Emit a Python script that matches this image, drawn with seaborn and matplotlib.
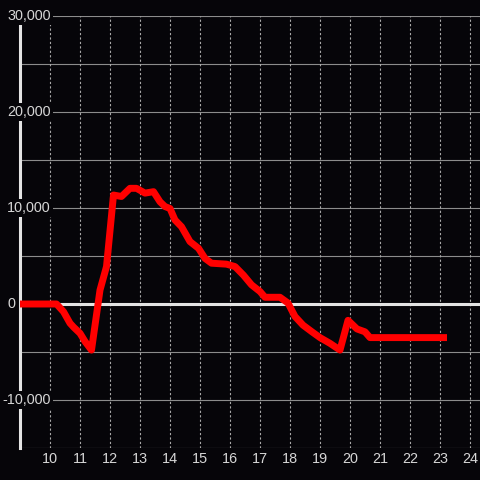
import matplotlib
matplotlib.use("Agg")
import matplotlib.pyplot as plt
import seaborn as sns
import pandas as pd

# readings of the red series (time of day, value)
times = ["09:00", "10:13", "10:27", "10:40", "10:47", "11:00", "11:10", "11:23",
         "11:40", "11:53", "12:07", "12:23", "12:40", "12:53", "13:10", "13:27",
         "13:40", "13:50", "14:00", "14:10", "14:23", "14:40", "14:57", "15:10",
         "15:23", "15:53", "16:10", "16:27", "16:43", "17:00", "17:10", "17:40",
         "17:56", "18:10", "18:26", "18:44", "19:00", "19:20", "19:40", "19:56",
         "20:14", "20:30", "20:40", "23:14"]
values = [0, 0, -800, -2000, -2400, -3050, -3900, -4800,
          1450, 3900, 11350, 11200, 12050, 12050, 11550, 11700,
          10650, 10150, 9950, 8750, 8050, 6500, 5800, 4750,
          4250, 4150, 3900, 3000, 2000, 1300, 700, 700,
          100, -1300, -2200, -2900, -3500, -4100, -4800, -1700,
          -2600, -2900, -3500, -3500]

x_ticks = list(range(10, 25))
y_grid = list(range(-15000, 30001, 5000))
y_labels = [-10000, 0, 10000, 20000, 30000]

bg = "#060509"
text_col = "#d6d6d6"

sns.set_style("dark", {"axes.facecolor": bg, "figure.facecolor": bg})
plt.rcParams["font.family"] = ["Liberation Sans", "DejaVu Sans"]

df = pd.DataFrame({"time": times, "value": values})
df["hour"] = df["time"].apply(lambda t: int(t[:2]) + int(t[3:]) / 60)

fig = plt.figure(figsize=(4.8, 4.8), dpi=100)
ax = fig.add_axes([20 / 480, 32 / 480, 460 / 480, 432 / 480])
ax.set_facecolor(bg)

ax.set_xlim(9, 9 + 460 / 30)
ax.set_ylim(-15000, 30000)

# grid
for v in y_grid:
    ax.axhline(v, color="#8c8c8c", lw=0.8, zorder=1)
for h in x_ticks:
    ax.axvline(h, color="#a8a8a8", lw=0.8, ls=(0, (2, 2)), zorder=1)
ax.axhline(0, color="#e4e4e4", lw=2.2, zorder=2)

sns.lineplot(data=df, x="hour", y="value", ax=ax, color="#ff0000", lw=5,
             solid_joinstyle="round", solid_capstyle="butt", zorder=5)

for s in ["top", "right", "bottom"]:
    ax.spines[s].set_visible(False)
ax.spines["left"].set_color("#e4e4e4")
ax.spines["left"].set_linewidth(2.2)
ax.spines["left"].set_zorder(3)

ax.set_xticks(x_ticks)
ax.set_xticklabels([str(h) for h in x_ticks])
ax.set_yticks([])
ax.tick_params(axis="x", length=0, pad=3, colors=text_col, labelsize=10.4)
ax.set_xlabel("")
ax.set_ylabel("")

# y labels sit over the axis line with a dark box
trans = ax.get_yaxis_transform()
for v in y_labels:
    lbl = f"{v:,}".replace("\u2212", "-")
    x_px = 7 - (4.8 if v < 0 else 0)
    ax.text((x_px - 20) / 460, v, lbl, transform=trans, ha="left", va="center",
            color=text_col, fontsize=10.4, zorder=10, clip_on=False,
            bbox=dict(boxstyle="square,pad=0.15", fc=bg, ec="none"))

fig.savefig("out.png", dpi=100, facecolor=bg)
